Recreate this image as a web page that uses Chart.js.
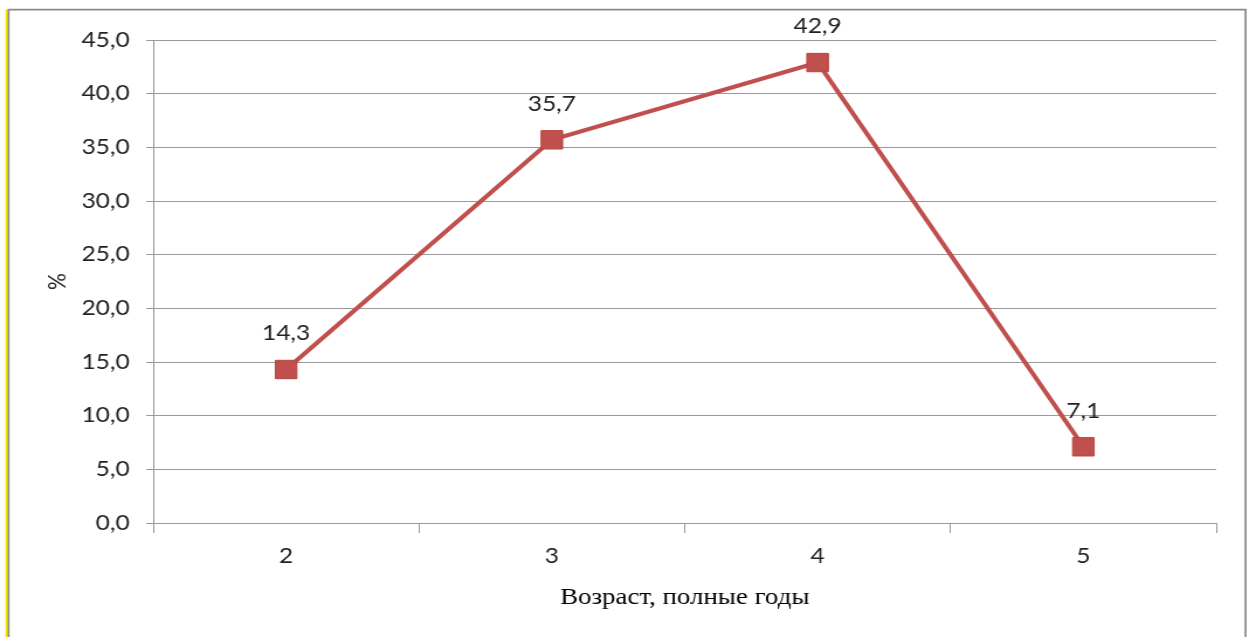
<!DOCTYPE html>
<html lang="ru">
<head>
<meta charset="utf-8">
<title>Распределение по возрасту</title>
<script src="https://cdn.jsdelivr.net/npm/chart.js@4.4.1/dist/chart.umd.min.js"></script>
<style>
  html, body { margin: 0; padding: 0; background: #ffffff; overflow: hidden; }
  #wrap { width: 1249px; height: 637px; overflow: hidden; }
  /* the chart is laid out on a narrower canvas and widened to the page */
  #chart { display: block; transform: scaleX(1.16948); transform-origin: 0 0; }
</style>
</head>
<body>
<div id="wrap"><canvas id="chart" width="1068" height="637"></canvas></div>
<script>
// Age in full years
const categories = ['2', '3', '4', '5'];
// Share of children, %
const shares = [14.3, 35.7, 42.9, 7.1];
// Value axis labels, bottom to top
const yTickLabels = ['0,0', '5,0', '10,0', '15,0', '20,0', '25,0', '30,0', '35,0', '40,0', '45,0'];

const lineColor = '#C0504D';
const axisColor = '#9a9a9a';
const textColor = '#222222';
const labelFont = { family: 'Lato, "Open Sans", sans-serif', size: 21 };

const fmt = v => v.toFixed(1).replace('.', ',');

// Outer frame of the chart object
const framePlugin = {
  id: 'frame',
  beforeDraw(chart) {
    const ctx = chart.ctx;
    ctx.save();
    ctx.lineWidth = 1.7;
    ctx.strokeStyle = '#f2e600';
    ctx.beginPath();
    ctx.moveTo(5.6, 9.5);
    ctx.lineTo(5.6, chart.height);
    ctx.stroke();
    ctx.strokeStyle = '#8a8a8a';
    ctx.beginPath();
    ctx.moveTo(7.3, chart.height);
    ctx.lineTo(7.3, 9.6);
    ctx.lineTo(1065, 9.6);
    ctx.lineTo(1065, chart.height);
    ctx.stroke();
    ctx.restore();
  }
};

// Value labels above each point
const valueLabels = {
  id: 'valueLabels',
  afterDatasetsDraw(chart) {
    const ctx = chart.ctx;
    const meta = chart.getDatasetMeta(0);
    ctx.save();
    ctx.font = `${labelFont.size}px ${labelFont.family}`;
    ctx.fillStyle = textColor;
    ctx.textAlign = 'center';
    ctx.textBaseline = 'middle';
    meta.data.forEach((pt, i) => {
      ctx.fillText(fmt(shares[i]), pt.x, pt.y - 36);
    });
    ctx.restore();
  }
};

new Chart(document.getElementById('chart'), {
  type: 'line',
  data: {
    labels: categories,
    datasets: [{
      data: shares,
      borderColor: lineColor,
      borderWidth: 4,
      backgroundColor: lineColor,
      pointStyle: 'rect',
      pointRadius: 13,
      pointHoverRadius: 13,
      pointBackgroundColor: lineColor,
      pointBorderColor: '#b9453f',
      pointBorderWidth: 1,
      tension: 0,
      fill: false
    }]
  },
  options: {
    responsive: false,
    devicePixelRatio: 1,
    animation: false,
    layout: { padding: { left: 0, top: 40, right: 28, bottom: 0 } },
    plugins: {
      legend: { display: false },
      tooltip: { enabled: false }
    },
    scales: {
      x: {
        type: 'category',
        offset: true,
        grid: {
          display: true,
          offset: true,
          drawOnChartArea: false,
          drawTicks: true,
          tickLength: 10,
          color: axisColor,
          lineWidth: 1
        },
        border: { display: true, color: axisColor, width: 1 },
        ticks: { font: labelFont, color: textColor, padding: 11, maxRotation: 0 },
        title: {
          display: true,
          text: 'Возраст, полные годы',
          font: { family: '"Liberation Serif", "Times New Roman", serif', size: 23 },
          color: '#000000',
          padding: { top: 0, bottom: 25 }
        },
        afterFit(scale) { scale.height = 114; }
      },
      y: {
        min: 0,
        max: 45,
        ticks: {
          stepSize: 5,
          font: labelFont,
          color: textColor,
          padding: 14,
          callback: (v, i) => yTickLabels[i]
        },
        grid: { color: axisColor, lineWidth: 1, tickLength: 6, drawTicks: true },
        border: { display: true, color: axisColor, width: 1 },
        title: {
          display: true,
          text: '%',
          font: labelFont,
          color: textColor,
          padding: { top: 37, bottom: 0 }
        },
        afterFit(scale) { scale.width = 131; }
      }
    }
  },
  plugins: [framePlugin, valueLabels]
});
</script>
</body>
</html>
